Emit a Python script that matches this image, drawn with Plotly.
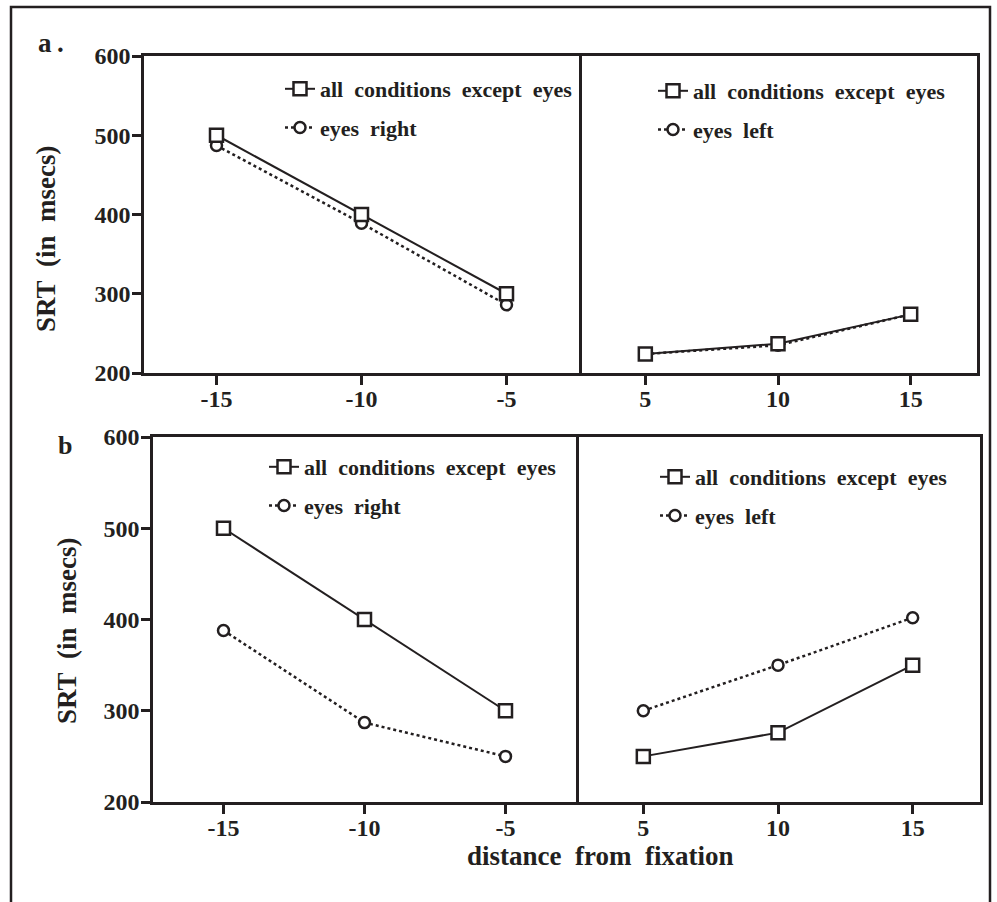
import plotly.graph_objects as go

W, H = 997, 902

# ---- data ----
dist_left = [-15, -10, -5]
dist_right = [5, 10, 15]
dist_left_labels = ["-15", "-10", "-5"]
dist_right_labels = ["5", "10", "15"]
a_all_left = [500, 400, 300]
a_eyes_right = [487, 389, 286]
a_all_right = [224, 237, 274]
a_eyes_left = [224, 235, 274]
b_all_left = [500, 400, 300]
b_eyes_right = [388, 287, 250]
b_all_right = [250, 276, 350]
b_eyes_left = [300, 350, 402]
y_ticks = [200, 300, 400, 500, 600]
name_all = "all\u00a0\u00a0conditions\u00a0\u00a0except\u00a0\u00a0eyes"
name_right = "eyes\u00a0\u00a0right"
name_left = "eyes\u00a0\u00a0left"

INK = "#231f20"
FONT = dict(family="Liberation Serif, Times New Roman, serif", color=INK, weight="bold")


def px_x(p):
    return p / W


def px_y(p):
    return 1 - p / H


fig = go.Figure()

panels = [
    ("x", "y", dist_left, a_all_left, a_eyes_right, name_right, "legend"),
    ("x2", "y2", dist_right, a_all_right, a_eyes_left, name_left, "legend2"),
    ("x3", "y3", dist_left, b_all_left, b_eyes_right, name_right, "legend3"),
    ("x4", "y4", dist_right, b_all_right, b_eyes_left, name_left, "legend4"),
]

for xa, ya, xs, sq, ci, cname, leg in panels:
    fig.add_trace(go.Scatter(
        x=xs, y=ci, xaxis=xa, yaxis=ya, mode="lines+markers", name=cname,
        legend=leg, legendgroup=leg + "c", legendrank=2,
        line=dict(color=INK, width=2.5, dash="dot"),
        marker=dict(symbol="circle", size=11, color="white", line=dict(color=INK, width=2.5)),
    ))
    fig.add_trace(go.Scatter(
        x=xs, y=sq, xaxis=xa, yaxis=ya, mode="lines+markers", name=name_all,
        legend=leg, legendgroup=leg + "s", legendrank=1,
        line=dict(color=INK, width=2),
        marker=dict(symbol="square", size=13, color="white", line=dict(color=INK, width=2.5)),
    ))

axis_common = dict(showline=True, linecolor=INK, linewidth=2.5, mirror=True, automargin=False,
                   showgrid=False, zeroline=False, ticks="outside", ticklen=9,
                   tickwidth=2.5, tickcolor=INK, tickfont=dict(size=24, **FONT))
x_axis = {**axis_common, "ticklabelstandoff": -7}
y_axis = {**axis_common, "ticklabelstandoff": -3}
right_y = {**axis_common, "ticks": "", "showticklabels": False, "mirror": False, "side": "right"}

ya_dom = [px_y(373), px_y(56)]
yb_dom = [px_y(802), px_y(437)]

fig.update_layout(
    xaxis=dict(domain=[px_x(144), px_x(579)], range=[-17.5, -2.5], tickvals=dist_left,
               ticktext=dist_left_labels, anchor="y", **x_axis),
    yaxis=dict(domain=ya_dom, range=[200, 600], tickvals=y_ticks, anchor="x", **y_axis),
    xaxis2=dict(domain=[px_x(579), px_x(977)], range=[2.5, 17.5], tickvals=dist_right,
                ticktext=dist_right_labels, anchor="y2", **x_axis),
    yaxis2=dict(domain=ya_dom, range=[200, 600], anchor="x2", **right_y),
    xaxis3=dict(domain=[px_x(153), px_x(576)], range=[-17.5, -2.5], tickvals=dist_left,
                ticktext=dist_left_labels, anchor="y3", **x_axis),
    yaxis3=dict(domain=yb_dom, range=[200, 600], tickvals=y_ticks, anchor="x3", **y_axis),
    xaxis4=dict(domain=[px_x(576), px_x(980)], range=[2.5, 17.5], tickvals=dist_right,
                ticktext=dist_right_labels, anchor="y4", **x_axis),
    yaxis4=dict(domain=yb_dom, range=[200, 600], anchor="x4", **right_y),
)

leg_common = dict(bgcolor="rgba(0,0,0,0)", borderwidth=0, font=dict(size=22, **FONT),
                  traceorder="grouped", tracegroupgap=7,
                  xanchor="left", yanchor="top", itemwidth=30)
fig.update_layout(
    showlegend=True,
    legend=dict(x=px_x(322 - 42), y=px_y(90 - 22), **leg_common),
    legend2=dict(x=px_x(695 - 42), y=px_y(92 - 22), **leg_common),
    legend3=dict(x=px_x(306 - 42), y=px_y(468 - 22), **leg_common),
    legend4=dict(x=px_x(697 - 42), y=px_y(478 - 22), **leg_common),
)

annos = [
    dict(text="a\u2009.", x=px_x(51), y=px_y(43), size=27, angle=0),
    dict(text="b", x=px_x(65), y=px_y(446), size=26, angle=0),
    dict(text="SRT\u00a0\u00a0(in\u00a0\u00a0msecs)", x=px_x(46), y=px_y(239), size=27, angle=-90),
    dict(text="SRT\u00a0\u00a0(in\u00a0\u00a0msecs)", x=px_x(67), y=px_y(631), size=27, angle=-90),
    dict(text="distance\u00a0\u00a0from\u00a0\u00a0fixation", x=px_x(600), y=px_y(856), size=27, angle=0),
]
for a in annos:
    fig.add_annotation(text=a["text"], x=a["x"], y=a["y"], xref="paper", yref="paper",
                       showarrow=False, textangle=a["angle"], xanchor="center", yanchor="middle",
                       font=dict(size=a["size"], **FONT))

fig.add_shape(type="rect", xref="paper", yref="paper",
              x0=px_x(11), x1=px_x(990), y0=px_y(910), y1=px_y(7),
              line=dict(color=INK, width=2.5), fillcolor="rgba(0,0,0,0)", layer="below")

fig.update_layout(width=W, height=H, autosize=False,
                  margin=dict(l=0, r=0, t=0, b=0, autoexpand=False),
                  paper_bgcolor="white", plot_bgcolor="white",
                  font=FONT)

fig.write_html("out.html", config={"displayModeBar": False},
               post_script="document.body.style.margin='0';document.body.style.padding='0';"
                           "document.body.style.overflow='hidden';")
